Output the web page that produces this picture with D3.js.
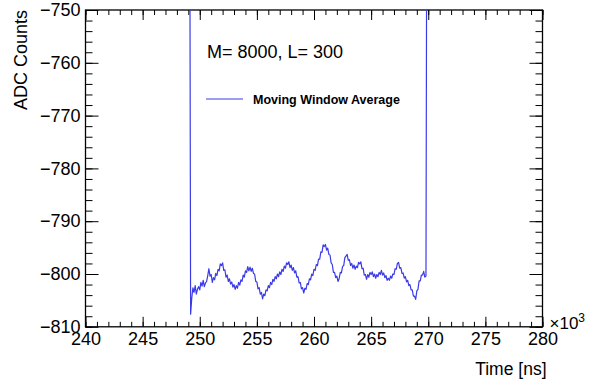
<!DOCTYPE html>
<html>
<head>
<meta charset="utf-8">
<script src="https://cdn.jsdelivr.net/npm/d3@7"></script>
<style>
  html, body { margin: 0; padding: 0; background: #fff; }
  svg { display: block; font-family: "Liberation Sans", Arial, Helvetica, sans-serif; }
  .axis path { display: none; }
  .axis line { stroke: #000; stroke-width: 1; }
  .axis text { font-size: 18px; fill: #000; }
</style>
</head>
<body>
<svg id="chart" width="589" height="383"></svg>
<script>
// Moving-window average of the ADC waveform, one value per 0.1 (x10^3 ns) bin
const binStart = 249.1;
const binWidth = 0.1;
const adcValues = [
  -700.0,
  -807.6, -804.6, -802.6, -803.5, -802.2, -803.8, -802.9, -802.4, -803.0, -801.6,
  -802.3, -801.2, -802.4, -801.7, -801.4, -800.3, -799.0, -800.4, -800.1, -801.6,
  -800.7, -801.1, -799.9, -800.3, -799.1, -799.4, -798.1, -798.4, -797.9, -799.3,
  -799.2, -800.6, -800.2, -801.4, -800.9, -801.9, -801.5, -802.5, -802.0, -802.9,
  -802.2, -802.7, -801.6, -802.1, -801.1, -801.4, -800.2, -800.6, -799.4, -799.7,
  -798.6, -799.4, -798.7, -799.5, -798.9, -799.9, -800.0, -801.4, -801.5, -802.8,
  -802.6, -803.8, -803.5, -804.7, -803.8, -804.1, -803.0, -803.2, -802.2, -802.6,
  -801.6, -802.0, -801.0, -801.4, -800.5, -800.9, -800.0, -800.5, -799.6, -800.1,
  -799.1, -799.5, -798.5, -798.9, -797.9, -798.2, -797.7, -798.8, -798.3, -799.3,
  -798.8, -799.8, -799.4, -800.6, -800.5, -801.7, -801.6, -802.8, -802.6, -803.6,
  -802.7, -802.9, -801.8, -802.0, -800.9, -801.1, -800.0, -800.3, -799.1, -799.3,
  -798.2, -798.4, -797.2, -797.2, -795.8, -795.9, -794.5, -794.8, -794.4, -795.5,
  -795.1, -796.3, -796.4, -797.9, -798.2, -799.7, -799.7, -800.7, -800.4, -801.4,
  -800.9, -799.7, -799.8, -798.6, -798.4, -796.9, -796.6, -796.3, -797.4, -797.3,
  -798.4, -798.0, -798.9, -798.3, -799.1, -798.5, -798.8, -797.8, -798.1, -797.7,
  -799.0, -798.9, -800.2, -800.1, -801.0, -800.1, -800.6, -799.7, -800.1, -799.6,
  -800.5, -800.0, -800.8, -800.1, -800.5, -799.7, -800.1, -799.3, -800.2, -799.8,
  -800.7, -800.3, -801.2, -800.8, -801.2, -800.4, -800.8, -800.0, -800.1, -799.0,
  -799.1, -798.0, -797.8, -798.9, -798.8, -799.9, -799.8, -800.8, -800.5, -801.5,
  -801.2, -802.2, -802.0, -803.0, -803.0, -804.2, -804.2, -804.8, -803.2, -802.9,
  -801.3, -801.3, -800.2, -800.2, -799.5, -800.6, -800.4,
  -700.0
];

const xMajorTicks = [240, 245, 250, 255, 260, 265, 270, 275, 280];
const xMinorTicks = d3.range(240, 280.5, 1);
const yMajorTicks = [-810, -800, -790, -780, -770, -760, -750];
const yMinorTicks = d3.range(-810, -749.5, 2);

const xTitle = "Time [ns]";
const yTitle = "ADC Counts";
const xExponent = "3";
const paramText = "M= 8000, L= 300";
const legendLabel = "Moving Window Average";

const series = adcValues.map((v, i) => ({ t: binStart + i * binWidth, v }));

const svg = d3.select("#chart");
const frame = { left: 85.5, right: 542.5, top: 10, bottom: 326.8 };

const x = d3.scaleLinear().domain([240, 280]).range([frame.left, frame.right]);
const y = d3.scaleLinear().domain([-810, -750]).range([frame.bottom, frame.top]);

const fmt = d => (d < 0 ? "\u2212" + Math.abs(d) : String(d));

// Bottom axis with labels, ticks drawn inward
svg.append("g").attr("class", "axis")
  .attr("transform", `translate(0,${frame.bottom})`)
  .call(d3.axisBottom(x).tickValues(xMinorTicks).tickSize(-5).tickFormat(""));
svg.append("g").attr("class", "axis")
  .attr("transform", `translate(0,${frame.bottom})`)
  .call(d3.axisBottom(x).tickValues(xMajorTicks).tickSize(-10).tickPadding(5.5).tickFormat(fmt));

// Top axis (ticks only)
svg.append("g").attr("class", "axis")
  .attr("transform", `translate(0,${frame.top})`)
  .call(d3.axisTop(x).tickValues(xMinorTicks).tickSize(-5).tickFormat(""));
svg.append("g").attr("class", "axis")
  .attr("transform", `translate(0,${frame.top})`)
  .call(d3.axisTop(x).tickValues(xMajorTicks).tickSize(-10).tickFormat(""));

// Left axis with labels
svg.append("g").attr("class", "axis")
  .attr("transform", `translate(${frame.left},0)`)
  .call(d3.axisLeft(y).tickValues(yMinorTicks).tickSize(-7).tickFormat(""));
svg.append("g").attr("class", "axis")
  .attr("transform", `translate(${frame.left},0)`)
  .call(d3.axisLeft(y).tickValues(yMajorTicks).tickSize(-13).tickPadding(5).tickFormat(fmt));

// Right axis (ticks only)
svg.append("g").attr("class", "axis")
  .attr("transform", `translate(${frame.right},0)`)
  .call(d3.axisRight(y).tickValues(yMinorTicks).tickSize(-7).tickFormat(""));
svg.append("g").attr("class", "axis")
  .attr("transform", `translate(${frame.right},0)`)
  .call(d3.axisRight(y).tickValues(yMajorTicks).tickSize(-13).tickFormat(""));

// Frame
svg.append("rect")
  .attr("x", frame.left).attr("y", frame.top)
  .attr("width", frame.right - frame.left).attr("height", frame.bottom - frame.top)
  .attr("fill", "none").attr("stroke", "#000").attr("stroke-width", 1.3);

// Waveform, clipped to the frame
svg.append("clipPath").attr("id", "plotClip")
  .append("rect")
  .attr("x", frame.left).attr("y", frame.top)
  .attr("width", frame.right - frame.left).attr("height", frame.bottom - frame.top);

const line = d3.line().x(d => x(d.t)).y(d => y(d.v));
svg.append("path")
  .datum(series)
  .attr("clip-path", "url(#plotClip)")
  .attr("d", line)
  .attr("fill", "none")
  .attr("stroke", "#3a3ae6")
  .attr("stroke-width", 1.2)
  .attr("stroke-linejoin", "round");

// Axis titles
svg.append("text")
  .attr("x", frame.right + 4).attr("y", 375)
  .attr("text-anchor", "end")
  .attr("font-size", 17.5)
  .text(xTitle);

svg.append("text")
  .attr("transform", `translate(27,${frame.top}) rotate(-90)`)
  .attr("text-anchor", "end")
  .attr("font-size", 18)
  .text(yTitle);

// x10^3 exponent marker
const expo = svg.append("text")
  .attr("x", frame.right + 7).attr("y", 329)
  .attr("font-size", 17);
expo.append("tspan").text("\u00d710");
expo.append("tspan").attr("dy", -7).attr("font-size", 12).text(xExponent);

// Parameter annotation
svg.append("text")
  .attr("x", 207).attr("y", 58)
  .attr("font-size", 18)
  .text(paramText);

// Legend
svg.append("line")
  .attr("x1", 206).attr("x2", 243)
  .attr("y1", 99).attr("y2", 99)
  .attr("stroke", "#3a3ae6").attr("stroke-width", 1);
svg.append("text")
  .attr("x", 253).attr("y", 104)
  .attr("font-size", 12.5)
  .attr("font-weight", "bold")
  .text(legendLabel);
</script>
</body>
</html>
